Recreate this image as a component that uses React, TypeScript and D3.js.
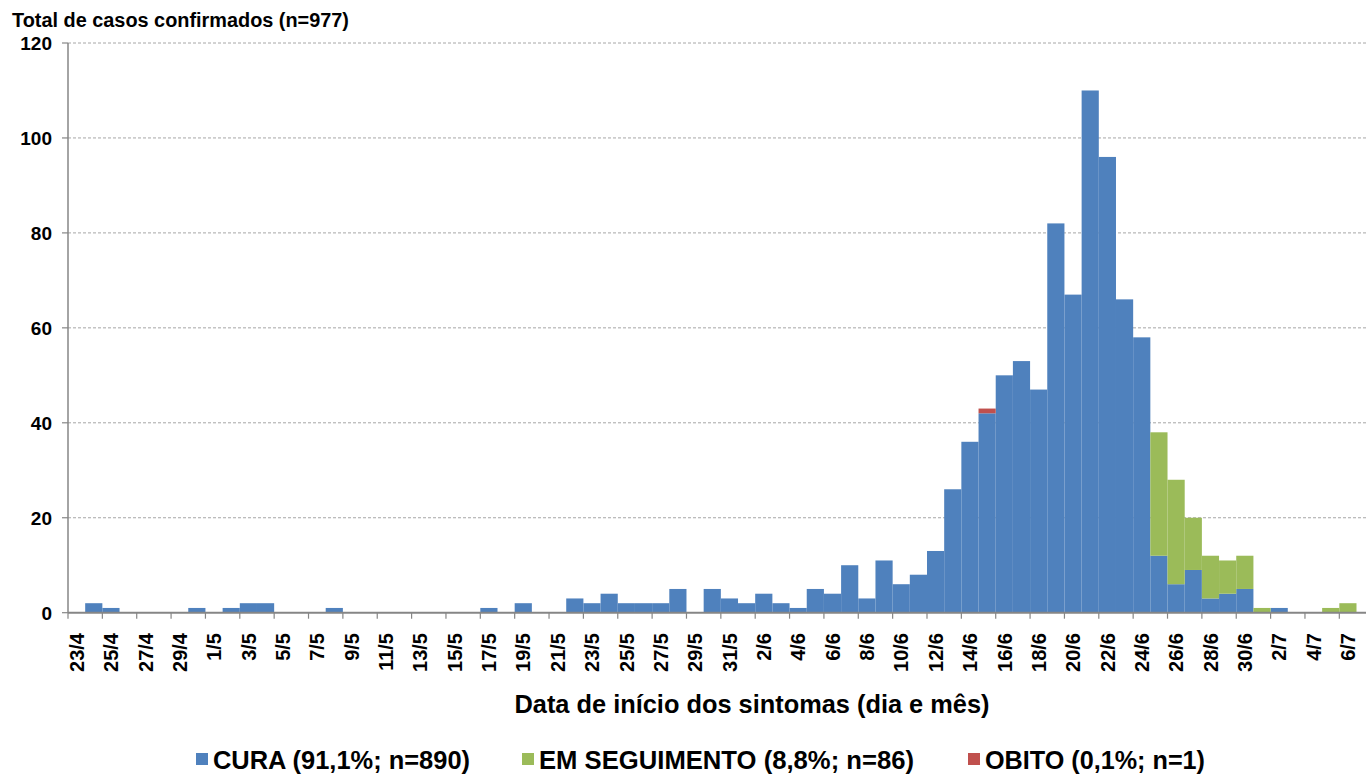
import React, { useEffect, useRef } from "react";
import * as d3 from "d3";

// dia/mês, 23/4 a 7/7
const dates = [
  "23/4", "24/4", "25/4", "26/4", "27/4", "28/4", "29/4", "30/4",
  "1/5", "2/5", "3/5", "4/5", "5/5", "6/5", "7/5", "8/5", "9/5", "10/5",
  "11/5", "12/5", "13/5", "14/5", "15/5", "16/5", "17/5", "18/5", "19/5", "20/5",
  "21/5", "22/5", "23/5", "24/5", "25/5", "26/5", "27/5", "28/5", "29/5", "30/5", "31/5",
  "1/6", "2/6", "3/6", "4/6", "5/6", "6/6", "7/6", "8/6", "9/6", "10/6",
  "11/6", "12/6", "13/6", "14/6", "15/6", "16/6", "17/6", "18/6", "19/6", "20/6",
  "21/6", "22/6", "23/6", "24/6", "25/6", "26/6", "27/6", "28/6", "29/6", "30/6",
  "1/7", "2/7", "3/7", "4/7", "5/7", "6/7", "7/7",
];

const cura = [
  0, 2, 1, 0, 0, 0, 0, 1,
  0, 1, 2, 2, 0, 0, 0, 1, 0, 0,
  0, 0, 0, 0, 0, 0, 1, 0, 2, 0,
  0, 3, 2, 4, 2, 2, 2, 5, 0, 5, 3,
  2, 4, 2, 1, 5, 4, 10, 3, 11, 6,
  8, 13, 26, 36, 42, 50, 53, 47, 82, 67,
  110, 96, 66, 58, 12, 6, 9, 3, 4, 5,
  0, 1, 0, 0, 0, 0, 0,
];

const emSeguimento = [
  0, 0, 0, 0, 0, 0, 0, 0,
  0, 0, 0, 0, 0, 0, 0, 0, 0, 0,
  0, 0, 0, 0, 0, 0, 0, 0, 0, 0,
  0, 0, 0, 0, 0, 0, 0, 0, 0, 0, 0,
  0, 0, 0, 0, 0, 0, 0, 0, 0, 0,
  0, 0, 0, 0, 0, 0, 0, 0, 0, 0,
  0, 0, 0, 0, 26, 22, 11, 9, 7, 7,
  1, 0, 0, 0, 1, 2, 0,
];

const obito = dates.map((d) => (d === "15/6" ? 1 : 0));

const yTicks = [0, 20, 40, 60, 80, 100, 120];

const series = [
  { key: "cura", label: "CURA (91,1%; n=890)", color: "#4F81BD" },
  { key: "seguimento", label: "EM SEGUIMENTO (8,8%; n=86)", color: "#9BBB59" },
  { key: "obito", label: "OBITO (0,1%; n=1)", color: "#C0504D" },
];

const FONT = "'Liberation Sans', Arial, sans-serif";

const App = () => {
  const svgRef = useRef(null);

  useEffect(() => {
    const width = 1366;
    const height = 774;
    const left = 68;
    const top = 43;
    const bottom = 612.7;

    const svg = d3.select(svgRef.current);
    svg.selectAll("*").remove();
    svg.attr("width", width).attr("height", height);

    const table = dates.map((d, i) => ({
      date: d,
      cura: cura[i],
      seguimento: emSeguimento[i],
      obito: obito[i],
    }));

    const x = d3
      .scaleBand()
      .domain(dates)
      .range([left, left + dates.length * 17.18])
      .padding(0);

    const y = d3.scaleLinear().domain([0, 120]).range([bottom, top]);

    // grid
    svg.append("g")
      .selectAll("line")
      .data(yTicks.filter((t) => t > 0))
      .enter()
      .append("line")
      .attr("x1", left)
      .attr("x2", width)
      .attr("y1", (d) => y(d))
      .attr("y2", (d) => y(d))
      .attr("stroke", "#a6a6a6")
      .attr("stroke-width", 1)
      .attr("stroke-dasharray", "3,2");

    // bars
    const stacked = d3.stack().keys(series.map((s) => s.key))(table);
    svg.append("g")
      .selectAll("g")
      .data(stacked)
      .enter()
      .append("g")
      .attr("fill", (d, i) => series[i].color)
      .selectAll("rect")
      .data((d) => d.filter((p) => p[1] > p[0]))
      .enter()
      .append("rect")
      .attr("x", (d) => x(d.data.date))
      .attr("width", x.bandwidth())
      .attr("y", (d) => y(d[1]))
      .attr("height", (d) => y(d[0]) - y(d[1]));

    // y axis
    svg.append("line")
      .attr("x1", left)
      .attr("x2", left)
      .attr("y1", top)
      .attr("y2", bottom)
      .attr("stroke", "#868686")
      .attr("stroke-width", 1.5);

    const yt = svg.append("g");
    yt.selectAll("line")
      .data(yTicks)
      .enter()
      .append("line")
      .attr("x1", left - 6)
      .attr("x2", left)
      .attr("y1", (d) => y(d))
      .attr("y2", (d) => y(d))
      .attr("stroke", "#868686")
      .attr("stroke-width", 1.2);
    yt.selectAll("text")
      .data(yTicks)
      .enter()
      .append("text")
      .attr("x", 52)
      .attr("y", (d) => y(d))
      .attr("dy", "0.36em")
      .attr("text-anchor", "end")
      .attr("font-family", FONT)
      .attr("font-weight", "bold")
      .attr("font-size", 19)
      .text((d) => d);

    // x axis
    svg.append("line")
      .attr("x1", left)
      .attr("x2", width)
      .attr("y1", bottom)
      .attr("y2", bottom)
      .attr("stroke", "#868686")
      .attr("stroke-width", 2);

    const labelled = dates.filter((d, i) => i % 2 === 0);
    const xt = svg.append("g");
    xt.selectAll("line")
      .data(labelled)
      .enter()
      .append("line")
      .attr("x1", (d) => x(d))
      .attr("x2", (d) => x(d))
      .attr("y1", bottom)
      .attr("y2", bottom + 6)
      .attr("stroke", "#868686")
      .attr("stroke-width", 1.2);
    xt.selectAll("text")
      .data(labelled)
      .enter()
      .append("text")
      .attr("transform", (d) => `translate(${x(d) + x.bandwidth() / 2},633) rotate(-90)`)
      .attr("dy", "0.36em")
      .attr("text-anchor", "end")
      .attr("font-family", FONT)
      .attr("font-weight", "bold")
      .attr("font-size", 20)
      .text((d) => d);

    // titles
    svg.append("text")
      .attr("x", 12)
      .attr("y", 27)
      .attr("font-family", FONT)
      .attr("font-weight", "bold")
      .attr("font-size", 19.5)
      .attr("textLength", 337)
      .attr("lengthAdjust", "spacingAndGlyphs")
      .text("Total de casos confirmados (n=977)");

    svg.append("text")
      .attr("x", 752)
      .attr("y", 713)
      .attr("text-anchor", "middle")
      .attr("font-family", FONT)
      .attr("font-weight", "bold")
      .attr("font-size", 25)
      .attr("textLength", 475)
      .attr("lengthAdjust", "spacingAndGlyphs")
      .text("Data de início dos sintomas (dia e mês)");

    // legend
    const legendX = [196, 522, 968];
    const legendW = [257, 375, 220];
    const lg = svg.append("g")
      .selectAll("g")
      .data(series)
      .enter()
      .append("g")
      .attr("transform", (d, i) => `translate(${legendX[i]},753)`);
    lg.append("rect")
      .attr("width", 12)
      .attr("height", 12)
      .attr("fill", (d) => d.color);
    lg.append("text")
      .attr("x", 17)
      .attr("y", 16)
      .attr("font-family", FONT)
      .attr("font-weight", "bold")
      .attr("font-size", 25)
      .attr("textLength", (d, i) => legendW[i])
      .attr("lengthAdjust", "spacingAndGlyphs")
      .text((d) => d.label);
  }, []);

  return (
    <svg
      ref={svgRef}
      style={{ position: "absolute", left: 0, top: 0, overflow: "hidden", background: "#fff" }}
    ></svg>
  );
};

export default App;
